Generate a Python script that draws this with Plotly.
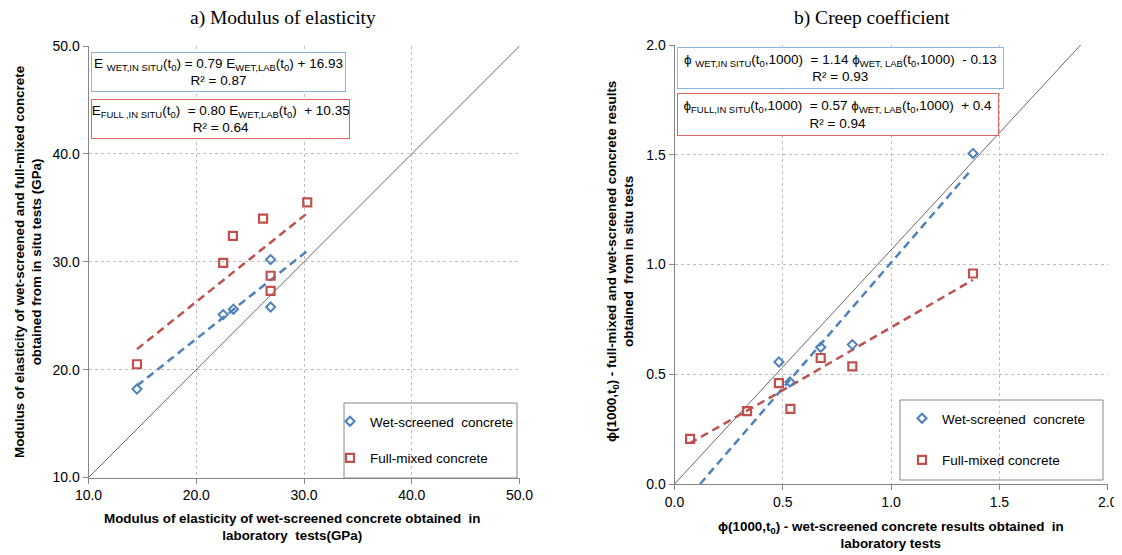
import plotly.graph_objects as go

# ---------------- data ----------------
# a) Modulus of elasticity (GPa)
wet_E_lab = [14.5, 22.5, 23.45, 26.9, 26.9]
wet_E_situ = [18.2, 25.1, 25.6, 30.2, 25.8]
full_E_lab = [14.5, 22.5, 23.4, 26.2, 30.3, 26.9, 26.9]
full_E_situ = [20.5, 29.9, 32.4, 34.0, 35.5, 28.7, 27.3]
trend_wet_E_x = [14.5, 30.3]
trend_wet_E_y = [18.5, 31.0]
trend_full_E_x = [14.5, 30.3]
trend_full_E_y = [21.9, 34.5]
diag_E = [10.0, 50.0]

# b) Creep coefficient
wet_phi_lab = [0.482, 0.533, 0.675, 0.821, 1.378]
wet_phi_situ = [0.556, 0.465, 0.623, 0.635, 1.506]
full_phi_lab = [0.072, 0.335, 0.482, 0.535, 0.675, 0.821, 1.378]
full_phi_situ = [0.206, 0.332, 0.46, 0.342, 0.574, 0.536, 0.959]
trend_wet_phi_x = [0.118, 1.36]
trend_wet_phi_y = [0.0, 1.42]
trend_full_phi_x = [0.07, 0.5, 1.378]
trend_full_phi_y = [0.185, 0.427, 0.93]
diag_phi_x = [0.0, 1.875]
diag_phi_y = [0.0, 2.0]

E_ticks = [10, 20, 30, 40, 50]
E_ticklabels = ["10.0", "20.0", "30.0", "40.0", "50.0"]
phi_ticks = [0, 0.5, 1.0, 1.5, 2.0]
phi_ticklabels = ["0.0", "0.5", "1.0", "1.5", "2.0"]

BLUE = "#4F81BD"
RED = "#C0504D"
GRID = "#BFBFBF"
AXIS = "#868686"
SANS = "Liberation Sans"
SERIF = "Liberation Serif"
OFF = 8  # page body margin
W, H = 1122 - OFF, 555 - OFF

fig = go.Figure()

# ---- left chart ----
fig.add_trace(go.Scatter(x=diag_E, y=diag_E, mode="lines", line=dict(color="#404040", width=0.8),
                         showlegend=False, xaxis="x", yaxis="y", hoverinfo="skip"))
fig.add_trace(go.Scatter(x=trend_wet_E_x, y=trend_wet_E_y, mode="lines",
                         line=dict(color=BLUE, width=2.5, dash="8px,5px"),
                         showlegend=False, xaxis="x", yaxis="y"))
fig.add_trace(go.Scatter(x=trend_full_E_x, y=trend_full_E_y, mode="lines",
                         line=dict(color=RED, width=2.5, dash="8px,5px"),
                         showlegend=False, xaxis="x", yaxis="y"))
fig.add_trace(go.Scatter(x=wet_E_lab, y=wet_E_situ, mode="markers", name="Wet-screened  concrete",
                         marker=dict(symbol="diamond-open", size=7, color=BLUE, line=dict(width=2)),
                         xaxis="x", yaxis="y", legend="legend", legendgroup="a1"))
fig.add_trace(go.Scatter(x=full_E_lab, y=full_E_situ, mode="markers", name="Full-mixed concrete",
                         marker=dict(symbol="square-open", size=8, color=RED, line=dict(width=2.2)),
                         xaxis="x", yaxis="y", legend="legend", legendgroup="a2"))

# ---- right chart ----
fig.add_trace(go.Scatter(x=diag_phi_x, y=diag_phi_y, mode="lines", line=dict(color="#404040", width=0.8),
                         showlegend=False, xaxis="x2", yaxis="y2", hoverinfo="skip"))
fig.add_trace(go.Scatter(x=trend_wet_phi_x, y=trend_wet_phi_y, mode="lines",
                         line=dict(color=BLUE, width=2.5, dash="8px,5px"),
                         showlegend=False, xaxis="x2", yaxis="y2"))
fig.add_trace(go.Scatter(x=trend_full_phi_x, y=trend_full_phi_y, mode="lines",
                         line=dict(color=RED, width=2.5, dash="8px,5px"),
                         showlegend=False, xaxis="x2", yaxis="y2"))
fig.add_trace(go.Scatter(x=wet_phi_lab, y=wet_phi_situ, mode="markers", name="Wet-screened  concrete",
                         marker=dict(symbol="diamond-open", size=7, color=BLUE, line=dict(width=2)),
                         xaxis="x2", yaxis="y2", legend="legend2", legendgroup="b1"))
fig.add_trace(go.Scatter(x=full_phi_lab, y=full_phi_situ, mode="markers", name="Full-mixed concrete",
                         marker=dict(symbol="square-open", size=8, color=RED, line=dict(width=2.2)),
                         xaxis="x2", yaxis="y2", legend="legend2", legendgroup="b2"))

def px(xp):
    return (xp - OFF) / W

def py(yp):
    return 1 - (yp - OFF) / H

axis_common = dict(showgrid=True, gridcolor=GRID, griddash="dot", gridwidth=1,
                   showline=True, linecolor=AXIS, linewidth=1, ticks="outside",
                   ticklen=5, tickcolor=AXIS, zeroline=False, automargin=False,
                   tickfont=dict(family=SANS, size=14, color="#000000"))

LF = dict(family=SANS, size=13.5, color="#000000")
fig.update_layout(
    width=W, height=H,
    margin=dict(l=0, r=0, t=0, b=0, autoexpand=False),
    paper_bgcolor="white", plot_bgcolor="white",
    showlegend=True,
    xaxis=dict(domain=[px(88.5), px(519.5)], range=[10, 50], tickvals=E_ticks,
               ticktext=E_ticklabels, anchor="y", **axis_common),
    yaxis=dict(domain=[py(477.5), py(46)], range=[10, 50], tickvals=E_ticks,
               ticktext=E_ticklabels, anchor="x", **axis_common),
    xaxis2=dict(domain=[px(674.5), px(1107.7)], range=[0, 2], tickvals=phi_ticks,
                ticktext=phi_ticklabels, anchor="y2", **axis_common),
    yaxis2=dict(domain=[py(484), py(45)], range=[0, 2], tickvals=phi_ticks,
                ticktext=phi_ticklabels, anchor="x2", **axis_common),
    legend=dict(x=px(330), y=py(406), xanchor="left", yanchor="top",
                borderwidth=0, bgcolor="rgba(0,0,0,0)", font=LF,
                tracegroupgap=16, itemwidth=30),
    legend2=dict(x=px(902), y=py(403), xanchor="left", yanchor="top",
                 borderwidth=0, bgcolor="rgba(0,0,0,0)", font=LF,
                 tracegroupgap=21, itemwidth=30),
)

# legend frames
shapes = [
    dict(type="rect", xref="paper", yref="paper", x0=px(344), x1=px(517), y0=py(478), y1=py(403),
         line=dict(color=AXIS, width=1), fillcolor="white", layer="between"),
    dict(type="rect", xref="paper", yref="paper", x0=px(900), x1=px(1103), y0=py(480), y1=py(400),
         line=dict(color=AXIS, width=1), fillcolor="white", layer="between"),
]
fig.update_layout(shapes=shapes)

ann = []
def label(text, x, y, font, angle=0):
    return dict(text=text, x=px(x), y=py(y), xref="paper", yref="paper", xanchor="center",
                yanchor="middle", showarrow=False, textangle=angle, font=font)

# titles
TTF = dict(family=SERIF, size=19.5, color="#000000")
ann.append(label("a) Modulus of elasticity", 283, 18, TTF))
ann.append(label("b) Creep coefficient", 872, 18, TTF))

TF = dict(family=SANS, size=13.4, color="#000000")
# axis titles
ann.append(label("<b>Modulus of elasticity of wet-screened concrete obtained  in</b><br><b>laboratory  tests(GPa)</b>",
                 292, 527, TF))
ann.append(label("<b>Modulus of elasticity of wet-screened and full-mixed concrete</b><br><b>obtained from in situ tests (GPa)</b>",
                 28, 262, TF, -90))
ann.append(label("<b>ϕ(1000,t<sub>0</sub>) - wet-screened concrete results obtained  in</b><br><b>laboratory tests</b>",
                 891, 534.5, TF))
ann.append(label("<b>ϕ(1000,t<sub>0</sub>) - full-mixed and wet-screened concrete results</b><br><b>obtained  from in situ tests</b>",
                 620, 262, TF, -90))

EF = dict(family=SANS, size=13.5, color="#000000")
# equation boxes
def eqbox(text, x0, y0, x1, y1, color):
    return dict(text=text, x=px(x0), y=py(y0), xref="paper", yref="paper", xanchor="left", yanchor="top",
                showarrow=False, font=EF, bordercolor=color, borderwidth=1, borderpad=0,
                bgcolor="white", width=x1 - x0 - 2, height=y1 - y0 - 2, align="center", valign="middle")

ann.append(eqbox("E <sub>WET,IN SITU</sub>(t<sub>0</sub>) = 0.79 E<sub>WET,LAB</sub>(t<sub>0</sub>) + 16.93<br>R² = 0.87",
                 90.7, 52.3, 345.7, 92.7, "#8DB3E2"))
ann.append(eqbox("E<sub>FULL ,IN SITU</sub>(t<sub>0</sub>)  = 0.80 E<sub>WET,LAB</sub>(t<sub>0</sub>)  + 10.35<br>R² = 0.64",
                 90.7, 98.7, 350, 139, "#E06666"))
ann.append(eqbox("ϕ <sub>WET,IN SITU</sub>(t<sub>0</sub>,1000)  = 1.14 ϕ<sub>WET, LAB</sub>(t<sub>0</sub>,1000)  - 0.13<br>R² = 0.93",
                 676.7, 47.3, 1003.3, 89.3, "#8DB3E2"))
ann.append(eqbox("ϕ<sub>FULL,IN SITU</sub>(t<sub>0</sub>,1000)  = 0.57 ϕ<sub>WET, LAB</sub>(t<sub>0</sub>,1000)  + 0.4<br>R² = 0.94",
                 676.7, 92.7, 998.3, 135.7, "#E06666"))

fig.update_layout(annotations=ann)

fig.write_html("out.html")
